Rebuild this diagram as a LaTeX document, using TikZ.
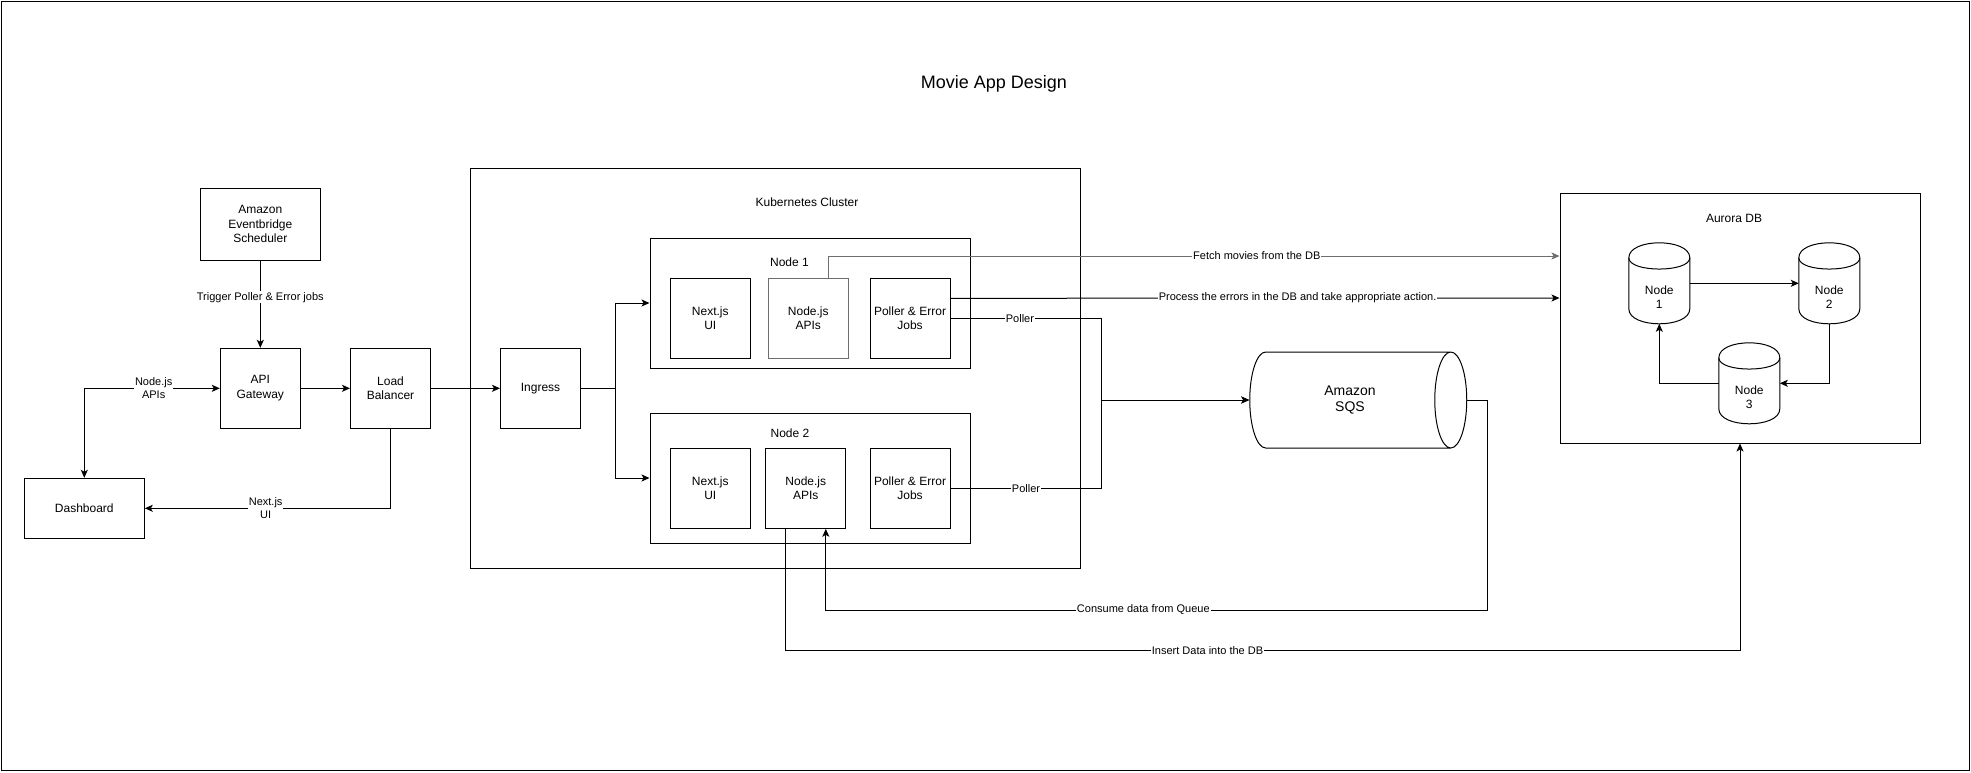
\documentclass[tikz,border=0pt]{standalone}
\usepackage{fontspec}
\setmainfont{Liberation Sans}
\usetikzlibrary{arrows.meta}
\usetikzlibrary{shapes.geometric}
\usetikzlibrary{calc}
\definecolor{apigray}{RGB}{110,110,110}

\begin{document}
\begin{tikzpicture}
[-,line width=1pt,x=1pt,y=-1pt,%
  every node/.style={shape=rectangle,inner sep=0pt,align=center,font=\fontsize{12}{14.4}\selectfont},%
  box/.style={draw,minimum width=80pt,minimum height=80pt},%
  db/.style={minimum width=60pt,minimum height=80pt},%
  lbl/.style={fill=white,inner sep=1pt,font=\fontsize{11}{13}\selectfont},%
  >={Stealth[length=8pt,width=7pt,inset=2pt]}]
\useasboundingbox (0,0) rectangle (1971,772);
\draw (1,1) rectangle (1969,770);
\node (title) at (994,84) [font=\fontsize{18}{21}\selectfont] {Movie App Design};
% left side
\node[box,minimum width=120pt,minimum height=72pt] (sched) at (260.3,224.3) {Amazon\\Eventbridge\\Scheduler};
\node[box] (gateway) at (260.3,388.3) {API\\Gateway};
\node[box] (lb) at (390.5,388.3) {Load\\Balancer};
\node[box,minimum width=120pt,minimum height=60pt] (dash) at (84.3,508.3) {Dashboard};
% cluster
\node[box,minimum width=610pt,minimum height=400pt] (k8s) at (775,368.3) {};
\node (k8stitle) at (807,202.5) {Kubernetes Cluster};
\node[box] (ingress) at (540.5,388.3) {Ingress};
\node[box,minimum width=320pt,minimum height=130pt] (node1) at (810,303) {};
\node (node1title) at (789.5,262) {Node 1};
\node[box] (ui1) at (710.3,318.3) {Next.js\\UI};
\node[box,draw=apigray] (apis1) at (808.3,318.3) {Node.js\\APIs};
\node[box] (jobs1) at (910,318.3) {Poller \& Error\\Jobs};
\node[box,minimum width=320pt,minimum height=130pt] (node2) at (810,478) {};
\node (node2title) at (790,433) {Node 2};
\node[box] (ui2) at (710.3,488.3) {Next.js\\UI};
\node[box] (apis2) at (805.8,488.3) {Node.js\\APIs};
\node[box] (jobs2) at (910,488.3) {Poller \& Error\\Jobs};
% queue and database
\node[cylinder,draw,aspect=1.1,minimum width=96pt,minimum height=217pt,font=\fontsize{14}{16.8}\selectfont] (sqs) at (1350,400) {Amazon\\SQS};
\node[box,minimum width=360pt,minimum height=250pt] (aurora) at (1740,318) {};
\node (auroratitle) at (1734,218.5) {Aurora DB};
\node[db] (db1) at (1659.3,283.3) {};
\node[db] (db2) at (1829.3,283.3) {};
\node[db] (db3) at (1749.3,383.3) {};
\foreach \n/\t in {db1/1,db2/2,db3/3}{
  \draw ($(\n.north west)+(0,15)$) .. controls ($(\n.north west)+(0,-5)$) and ($(\n.north east)+(0,-5)$) .. ($(\n.north east)+(0,15)$)
    -- ($(\n.south east)+(0,-15)$) .. controls ($(\n.south east)+(0,5)$) and ($(\n.south west)+(0,5)$) .. ($(\n.south west)+(0,-15)$) -- cycle;
  \draw ($(\n.north west)+(0,15)$) .. controls ($(\n.north west)+(0,30)$) and ($(\n.north east)+(0,30)$) .. ($(\n.north east)+(0,15)$);
  \node (\n text) at ($(\n.center)+(0,14)$) {Node\\\t};
}
\path
(sched) edge[->] node[lbl,pos=0.42] {Trigger Poller \& Error jobs} (gateway)
(gateway) edge[->] (lb)
(lb) edge[->] (ingress)
([yshift=20pt]jobs1.east) edge[->] node[lbl,pos=0.57] {Process the errors in the DB and take appropriate action.} ([yshift=20pt]aurora.west)
(db1.east) edge[->] (db2.west);
\draw[<->] (gateway.west) -| node[lbl,pos=0.244] {Node.js\\APIs} (dash.north);
\draw[->] (lb.south) |- node[lbl,pos=0.754] {Next.js\\UI} (dash.east);
\draw[->] (ingress.east) -- ++(34.5,0) |- (node1.west);
\draw[->] (ingress.east) -- ++(34.5,0) |- (node2.west);
\draw[->,apigray] ([xshift=20pt]apis1.north) |- node[lbl,text=black,pos=0.793] {Fetch movies from the DB} ([yshift=62pt]aurora.west);
\draw[->] (jobs1.east) -- node[lbl,pos=0.46] {Poller} ++(151,0) |- (sqs.west);
\draw[->] (jobs2.east) -- node[lbl,pos=0.5] {Poller} ++(151,0) |- (sqs.west);
\draw[->] (sqs.east) -- ++(20,0) -- ++(0,210) -| node[lbl,pos=0.26] {Consume data from Queue} ([xshift=20pt]apis2.south);
\draw[->] ([xshift=-20pt]apis2.south) -- ++(0,121.7) -| node[lbl,pos=0.221] {Insert Data into the DB} (aurora.south);
\draw[->] (db2.south) |- (db3.east);
\draw[->] (db3.west) -| (db1.south);
\end{tikzpicture}
\end{document}
